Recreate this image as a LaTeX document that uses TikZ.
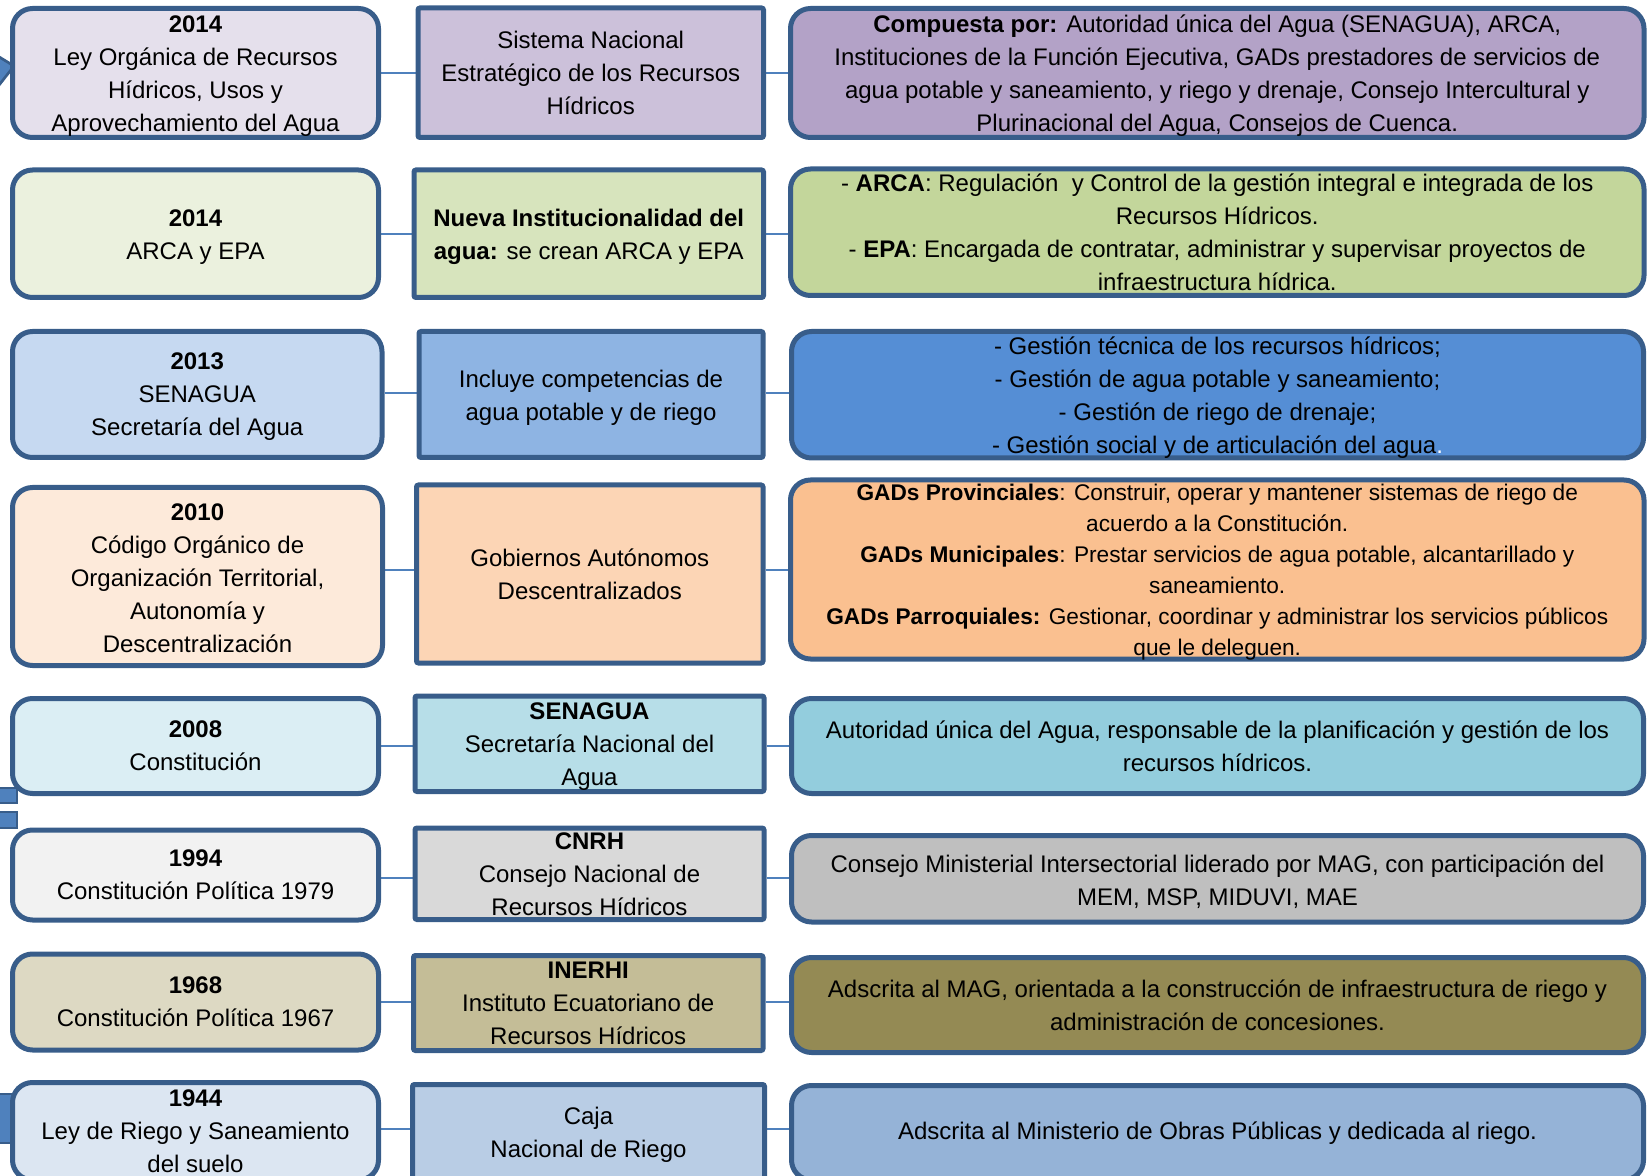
\documentclass[tikz,border=0pt]{standalone}
\usepackage{fontspec}
\setmainfont{Liberation Sans}
\usetikzlibrary{fit}
\definecolor{bord}{HTML}{385D8A}
\definecolor{connc}{HTML}{4F81BD}
\definecolor{arrowc}{HTML}{4F81BD}
\definecolor{aL}{HTML}{E5E0EC}\definecolor{aM}{HTML}{CCC1DA}\definecolor{aR}{HTML}{B3A2C7}
\definecolor{bL}{HTML}{EBF1DE}\definecolor{bM}{HTML}{D7E4BD}\definecolor{bR}{HTML}{C3D69B}
\definecolor{cL}{HTML}{C6D9F1}\definecolor{cM}{HTML}{8EB4E3}\definecolor{cR}{HTML}{558ED5}
\definecolor{dL}{HTML}{FDEADA}\definecolor{dM}{HTML}{FCD5B5}\definecolor{dR}{HTML}{FAC090}
\definecolor{eL}{HTML}{DBEEF4}\definecolor{eM}{HTML}{B7DEE8}\definecolor{eR}{HTML}{93CDDD}
\definecolor{fL}{HTML}{F2F2F2}\definecolor{fM}{HTML}{D9D9D9}\definecolor{fR}{HTML}{BFBFBF}
\definecolor{gL}{HTML}{DDD9C3}\definecolor{gM}{HTML}{C4BD97}\definecolor{gR}{HTML}{948A54}
\definecolor{hL}{HTML}{DCE6F2}\definecolor{hM}{HTML}{B9CDE5}\definecolor{hR}{HTML}{95B3D7}
\pgfdeclarelayer{bg}
\pgfsetlayers{bg,main}
\begin{document}
\begin{tikzpicture}[x=0.75pt,y=-0.75pt,
  rbx/.style={draw=bord, line width=3.75pt, rounded corners=15pt, inner sep=0pt},
  sbx/.style={draw=bord, line width=3.75pt, rounded corners=1.5pt, inner sep=0pt},
  txt/.style={align=center, inner sep=0pt, text=black, font=\fontsize{18}{24.75}\selectfont},
  txts/.style={align=center, inner sep=0pt, text=black, font=\fontsize{17}{23.25}\selectfont},
  dn/.style={yshift=-2.25pt},
  conn/.style={draw=connc, line width=1.5pt},
  piece/.style={fill=arrowc, draw=bord, line width=2pt}]
\useasboundingbox (0,0) rectangle (1649,1176);
\clip (0,0) rectangle (1649,1176);

% fragments of the background arrow at the left edge
\draw[piece] (-4,55) -- (14,66) -- (-4,89) -- cycle;
\draw[piece] (-4,788) rectangle (17,803);
\draw[piece] (-4,812) rectangle (17,828);
\draw[piece] (-4,1094) rectangle (14,1143);

% row 1
\node[rbx, fill=aL, fit={(12.5,8.5) (378.5,137.5)}] (L1) {};
\node[sbx, fill=aM, fit={(418,8) (763.5,137.5)}] (M1) {};
\node[rbx, fill=aR, fit={(790.5,8.5) (1644,137.5)}] (R1) {};
\node[txt, dn] (tL1) at (L1.center) {\textbf{2014}\\Ley Orgánica de Recursos\\Hídricos, Usos y\\Aprovechamiento del Agua};
\node[txt] (tM1) at (M1.center) {Sistema Nacional\\Estratégico de los Recursos\\Hídricos};
\node[txt, dn] (tR1) at (R1.center) {\textbf{Compuesta por:} Autoridad única del Agua (SENAGUA), ARCA,\\Instituciones de la Función Ejecutiva, GADs prestadores de servicios de\\agua potable y saneamiento, y riego y drenaje, Consejo Intercultural y\\Plurinacional del Agua, Consejos de Cuenca.};

% row 2
\node[rbx, fill=bL, fit={(12.5,170) (378.5,297.5)}] (L2) {};
\node[sbx, fill=bM, fit={(414,170) (763.5,297.5)}] (M2) {};
\node[rbx, fill=bR, fit={(790.5,169) (1644,295.5)}] (R2) {};
\node[txt, dn] (tL2) at (L2.center) {\textbf{2014}\\ARCA y EPA};
\node[txt, dn] (tM2) at (M2.center) {\textbf{Nueva Institucionalidad del}\\\textbf{agua:} se crean ARCA y EPA};
\node[txt] (tR2) at (R2.center) {- \textbf{ARCA}: Regulación\ \ y Control de la gestión integral e integrada de los\\Recursos Hídricos.\\- \textbf{EPA}: Encargada de contratar, administrar y supervisar proyectos de\\infraestructura hídrica.};

% row 3
\node[rbx, fill=cL, fit={(12.5,331.5) (382,457.5)}] (L3) {};
\node[sbx, fill=cM, fit={(419,331.5) (763,457.5)}] (M3) {};
\node[rbx, fill=cR, fit={(791.5,331.5) (1643.5,458)}] (R3) {};
\node[txt, yshift=-1.5pt] (tL3) at (L3.center) {\textbf{2013}\\SENAGUA\\Secretaría del Agua};
\node[txt, dn] (tM3) at (M3.center) {Incluye competencias de\\agua potable y de riego};
\node[txt, dn] (tR3) at (R3.center) {- Gestión técnica de los recursos hídricos;\\- Gestión de agua potable y saneamiento;\\- Gestión de riego de drenaje;\\- Gestión social y de articulación del agua{\color{white}.}};

% row 4
\node[rbx, fill=dL, fit={(12.5,487.5) (382.5,665.5)}] (L4) {};
\node[sbx, fill=dM, fit={(416.5,485) (763,663)}] (M4) {};
\node[rbx, fill=dR, fit={(790.5,480) (1644,659)}] (R4) {};
\node[txt, yshift=-1.5pt] (tL4) at (L4.center) {\textbf{2010}\\Código Orgánico de\\Organización Territorial,\\Autonomía y\\Descentralización};
\node[txt] (tM4) at (M4.center) {Gobiernos Autónomos\\Descentralizados};
\node[txts, dn] (tR4) at (R4.center) {\textbf{GADs Provinciales}: Construir, operar y mantener sistemas de riego de\\acuerdo a la Constitución.\\\textbf{GADs Municipales}: Prestar servicios de agua potable, alcantarillado y\\saneamiento.\\\textbf{GADs Parroquiales:} Gestionar, coordinar y administrar los servicios públicos\\que le deleguen.};

% row 5
\node[rbx, fill=eL, fit={(12.5,698.5) (378.5,793.5)}] (L5) {};
\node[sbx, fill=eM, fit={(415,696) (764,791.5)}] (M5) {};
\node[rbx, fill=eR, fit={(791.5,698.5) (1643.5,793.5)}] (R5) {};
\node[txt] (tL5) at (L5.center) {\textbf{2008}\\Constitución};
\node[txt, dn] (tM5) at (M5.center) {\textbf{SENAGUA}\\Secretaría Nacional del\\Agua};
\node[txt] (tR5) at (R5.center) {Autoridad única del Agua, responsable de la planificación y gestión de los\\recursos hídricos.};

% row 6
\node[rbx, fill=fL, fit={(12.5,830) (378.5,920)}] (L6) {};
\node[sbx, fill=fM, fit={(415,828) (764,919.5)}] (M6) {};
\node[rbx, fill=fR, fit={(791.5,835.5) (1643.5,922)}] (R6) {};
\node[txt] (tL6) at (L6.center) {\textbf{1994}\\Constitución Política 1979};
\node[txt] (tM6) at (M6.center) {\textbf{CNRH}\\Consejo Nacional de\\Recursos Hídricos};
\node[txt, dn] (tR6) at (R6.center) {Consejo Ministerial Intersectorial liderado por MAG, con participación del\\MEM, MSP, MIDUVI, MAE};

% row 7
\node[rbx, fill=gL, fit={(12.5,954) (378.5,1050)}] (L7) {};
\node[sbx, fill=gM, fit={(413.5,955.5) (763,1050.5)}] (M7) {};
\node[rbx, fill=gR, fit={(791.5,957.5) (1643.5,1052.5)}] (R7) {};
\node[txt] (tL7) at (L7.center) {\textbf{1968}\\Constitución Política 1967};
\node[txt] (tM7) at (M7.center) {\textbf{INERHI}\\Instituto Ecuatoriano de\\Recursos Hídricos};
\node[txt] (tR7) at (R7.center) {Adscrita al MAG, orientada a la construcción de infraestructura de riego y\\administración de concesiones.};

% row 8
\node[rbx, fill=hL, fit={(12.5,1082.5) (378.5,1180)}] (L8) {};
\node[sbx, fill=hM, fit={(412.5,1084.5) (764.5,1180)}] (M8) {};
\node[rbx, fill=hR, fit={(791.5,1085.5) (1643.5,1180)}] (R8) {};
\node[txt] (tL8) at (L8.center) {\textbf{1944}\\Ley de Riego y Saneamiento\\del suelo};
\node[txt, dn] (tM8) at (M8.center) {Caja\\Nacional de Riego};
\node[txt] (tR8) at (R8.center) {Adscrita al Ministerio de Obras Públicas y dedicada al riego.};

% connectors
\coordinate (y1) at (0,72.7);
\coordinate (y2) at (0,234);
\coordinate (y3) at (0,393);
\coordinate (y4) at (0,570);
\coordinate (y5) at (0,745.7);
\coordinate (y6) at (0,877.7);
\coordinate (y7) at (0,1001.7);
\coordinate (y8) at (0,1129);
\begin{pgfonlayer}{bg}
\foreach \r in {1,...,8}{
  \draw[conn] (L\r.east |- y\r) -- (M\r.west |- y\r);
  \draw[conn] (M\r.east |- y\r) -- (R\r.west |- y\r);
}
\end{pgfonlayer}
\end{tikzpicture}
\end{document}
